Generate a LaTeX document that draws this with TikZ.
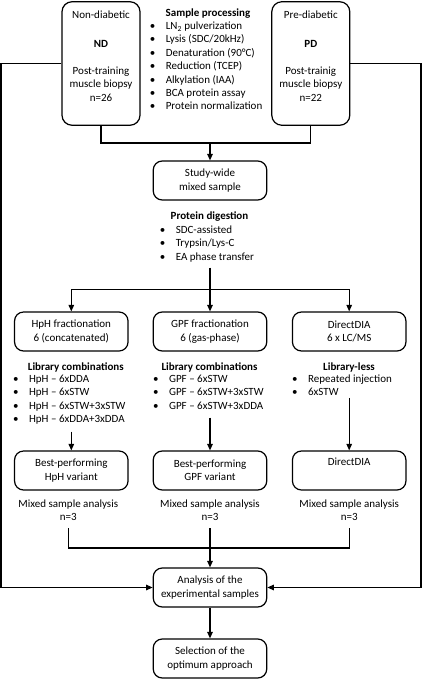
\documentclass[tikz,border=0pt]{standalone}
\usepackage{fontspec}
\setmainfont{Carlito}
\usetikzlibrary{arrows.meta}
\newcommand{\itm}{\makebox[16pt][l]{\textbullet}}
\begin{document}
\begin{tikzpicture}[x=1pt, y=-1pt,
      line width=1.2pt,
      font=\fontsize{11}{13.4}\selectfont,
      >={Triangle[length=6.5pt, width=5.5pt]},
      box/.style = {draw, rounded corners=9pt, minimum width=113.5pt, minimum height=39pt, align=center, inner sep=0pt},
      tall/.style = {draw, rounded corners=10pt, minimum width=78pt, minimum height=123.5pt, inner sep=0pt},
      head/.style = {font=\fontsize{11}{13.4}\selectfont\bfseries, anchor=base, inner sep=0pt},
      list/.style = {anchor=base west, inner sep=0pt},
      txt/.style = {align=center, inner sep=0pt}]
    \useasboundingbox (0,0) rectangle (422,685);

    % cohorts
    \node[tall] (nd) at (101,63.5) {};
    \node[tall] (pd) at (310.8,63.5) {};
    \node[txt, anchor=north] (ndtext) at ([yshift=-9pt]nd.north) {Non-diabetic\\[16pt]\textbf{ND}\\[13.4pt]Post-training\\muscle biopsy\\n=26};
    \node[txt, anchor=north] (pdtext) at ([yshift=-9pt]pd.north) {Pre-diabetic\\[16pt]\textbf{PD}\\[13.4pt]Post-trainig\\muscle biopsy\\n=22};

    % sample processing
    \node[head] (sphead) at (208,16.8) {Sample processing};
    \node[list] (splist) at (149.2,29.4) {\begin{tabular}[t]{@{}l@{}}
        \itm LN\textsubscript{2} pulverization\\
        \itm Lysis (SDC/20kHz)\\
        \itm Denaturation (90°C)\\
        \itm Reduction (TCEP)\\
        \itm Alkylation (IAA)\\
        \itm BCA protein assay\\
        \itm Protein normalization
      \end{tabular}};

    % mixed sample and digestion
    \node[box] (mix) at (210,180.5) {Study-wide\\mixed sample};
    \node[head] (pdhead) at (209.5,219) {Protein digestion};
    \node[list] (pdlist) at (159.2,233.3) {\begin{tabular}[t]{@{}l@{}}
        \itm SDC-assisted\\
        \itm Trypsin/Lys-C\\
        \itm EA phase transfer
      \end{tabular}};
    \coordinate (sp) at (210,289.5);

    % three approaches
    \node[box] (hph) at (71.3,331.5) {HpH fractionation\\6 (concatenated)};
    \node[box] (gpf) at (210,331.5) {GPF fractionation\\6 (gas-phase)};
    \node[box] (dda) at (349.2,331.5) {DirectDIA\\6 x LC/MS};

    \node[head] (hphhead) at (75.8,370) {Library combinations};
    \node[head] (gpfhead) at (209.5,370) {Library combinations};
    \node[head] (ddahead) at (349,370) {Library-less};

    \node[list] (hphlist) at (12.5,382.5) {\begin{tabular}[t]{@{}l@{}}
        \itm HpH -- 6xDDA\\
        \itm HpH -- 6xSTW\\
        \itm HpH -- 6xSTW+3xSTW\\
        \itm HpH -- 6xDDA+3xDDA
      \end{tabular}};
    \node[list] (gpflist) at (152.5,382.5) {\begin{tabular}[t]{@{}l@{}}
        \itm GPF -- 6xSTW\\
        \itm GPF -- 6xSTW+3xSTW\\
        \itm GPF -- 6xSTW+3xDDA
      \end{tabular}};
    \node[list] (ddalist) at (291.5,382.5) {\begin{tabular}[t]{@{}l@{}}
        \itm Repeated injection\\
        \itm 6xSTW
      \end{tabular}};

    \node[box] (hphb) at (71.3,470.5) {Best-performing\\HpH variant};
    \node[box] (gpfb) at (210,470.5) {Best-performing\\GPF variant};
    \node[box] (ddab) at (349.2,470.5) {DirectDIA\\\strut};

    \node[txt] (msa1) at (68.3,510) {Mixed sample analysis\\n=3};
    \node[txt] (msa2) at (210,510) {Mixed sample analysis\\n=3};
    \node[txt] (msa3) at (349.2,510) {Mixed sample analysis\\n=3};
    \coordinate (jm) at (210,548);

    % final steps
    \node[box] (ana) at (210,587.5) {Analysis of the\\experimental samples};
    \node[box] (sel) at (210,658.5) {Selection of the\\optimum approach};

    % connectors
    \coordinate (jt) at (210,143);
    \coordinate (wl) at (1,300);
    \coordinate (wr) at (421,300);
    \draw (nd.south) |- (jt) -| (pd.south);
    \draw[->] (jt) -- (mix.north);
    \draw[->] (nd.west) -| (wl) |- (ana.west);
    \draw[->] (pd.east) -| (wr) |- (ana.east);
    \draw ([yshift=-3pt]pdlist.south -| sp) -- (sp);
    \draw[->] (sp) -| (hph.north);
    \draw[->] (sp) -- (gpf.north);
    \draw[->] (sp) -| (dda.north);
    \draw[->] ([yshift=-4.3pt]hphlist.south -| hphb.north) -- (hphb.north);
    \draw[->] ([yshift=-3.7pt]gpflist.south -| gpfb.north) -- (gpfb.north);
    \draw[->] ([yshift=2.7pt]ddalist.south -| ddab.north) -- (ddab.north);
    \draw ([yshift=-7pt]msa1.south) |- (jm) -| ([yshift=-7pt]msa3.south);
    \draw[->] ([yshift=-7pt]msa2.south) -- (ana.north);
    \draw[->] (ana.south) -- (sel.north);
  \end{tikzpicture}
\end{document}
